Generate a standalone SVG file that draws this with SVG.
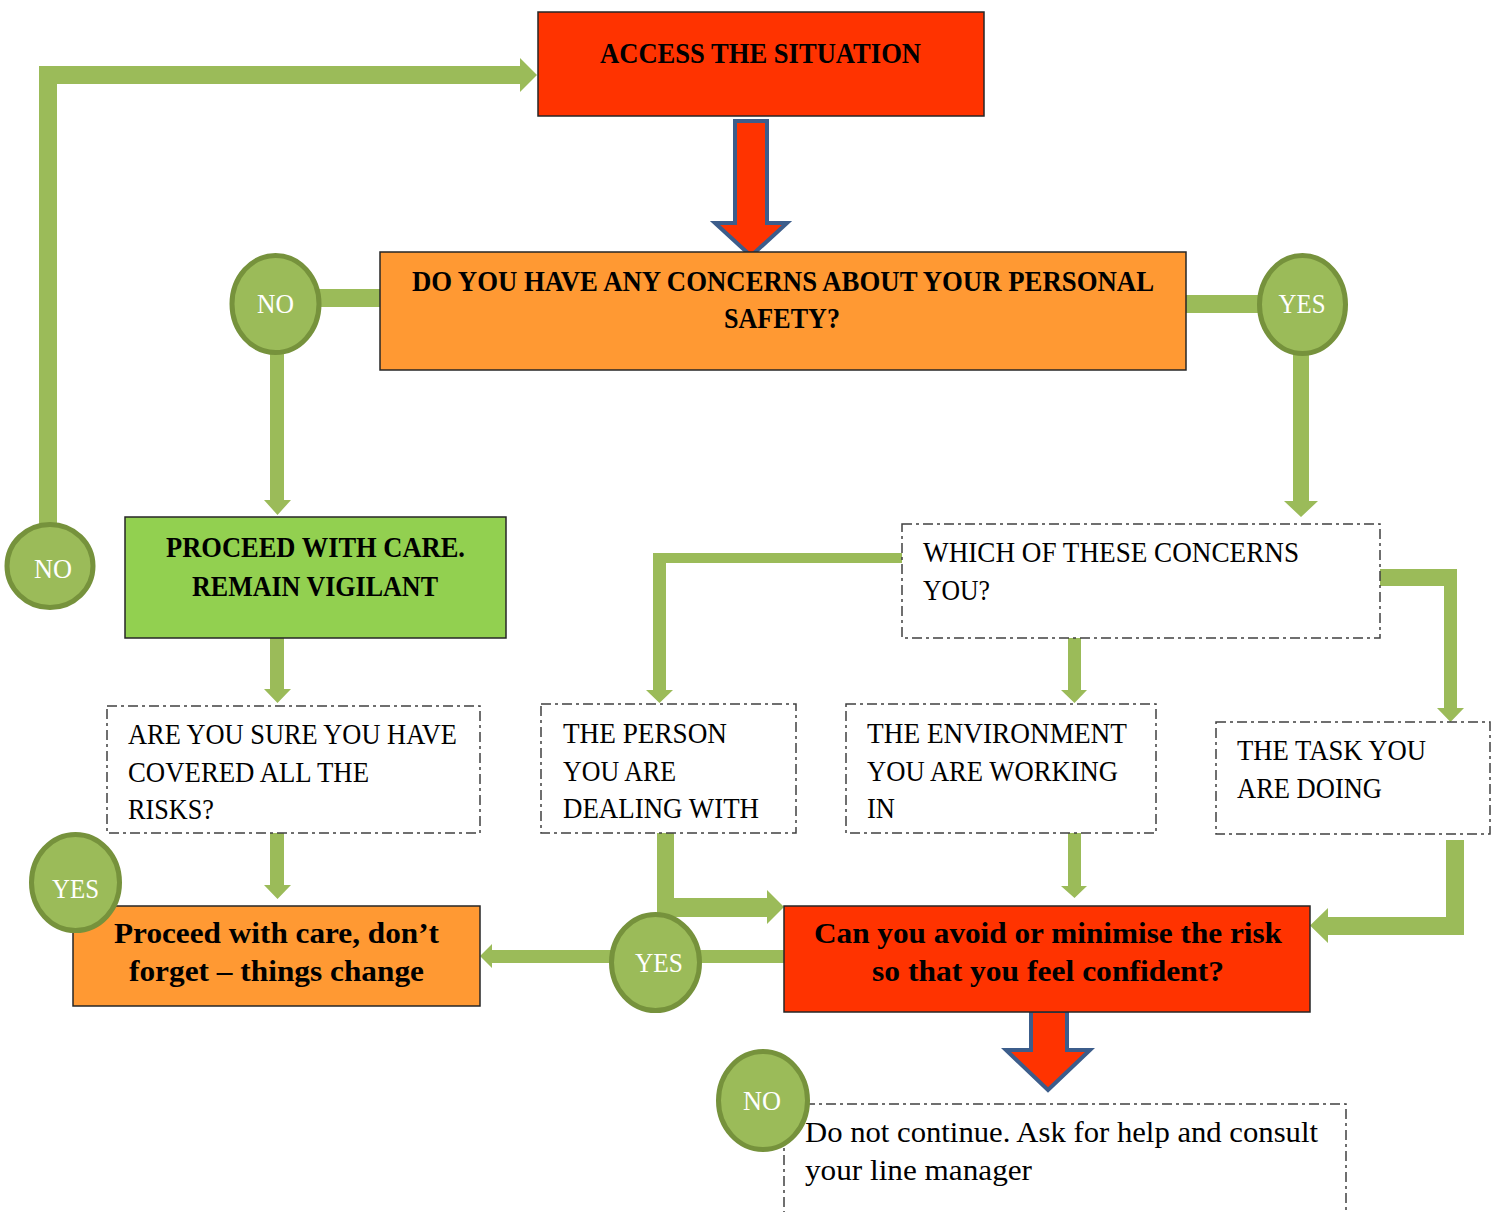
<svg xmlns="http://www.w3.org/2000/svg" width="1497" height="1212" viewBox="0 0 1497 1212">
<style>
  .t { font-family: "Liberation Serif", "DejaVu Serif", serif; font-size: 29px; fill: #000; }
  .b { font-weight: bold; }
  .ct { font-family: "Liberation Serif", "DejaVu Serif", serif; font-size: 27px; fill: #fff; text-anchor: middle; }
  .solid { stroke: #262626; stroke-width: 1.5; }
  .red { fill: #FF3300; }
  .orange { fill: #FF9933; }
  .lime { fill: #92D050; }
  .dash { fill: #fff; stroke: #404040; stroke-width: 1.5; stroke-dasharray: 10 4 3 4; }
  .conn { fill: #9BBB59; }
  .bigarrow { fill: #FF3300; stroke: #3C5D8B; stroke-width: 4; stroke-linejoin: miter; }
  .circ { fill: #9BBB59; stroke: #76923C; stroke-width: 5; }
</style>
<rect width="1497" height="1212" fill="#fff"/>

<g id="connectors">
  <polygon class="conn" points="39,530 39,66 520,66 520,58 537,75 520,92 520,84 57,84 57,530"/>
  <rect class="conn" x="318" y="289" width="62" height="18"/>
  <polygon class="conn" points="270,352 284,352 284,500 291,500 277.5,515 264,500 270,500"/>
  <polygon class="conn" points="270,638 284,638 284,689 291,689 277.5,703 264,689 270,689"/>
  <polygon class="conn" points="270,833 284,833 284,885 291,885 277.5,899 264,885 270,885"/>
  <rect class="conn" x="1186" y="295" width="74" height="18"/>
  <polygon class="conn" points="1293,352 1309,352 1309,501 1318,501 1301,517 1284,501 1293,501"/>
  <polygon class="conn" points="902,553 653,553 653,690 646,690 659.5,703 673,690 666,690 666,563 902,563"/>
  <polygon class="conn" points="1068,638 1081,638 1081,690 1087,690 1074.5,703 1061,690 1068,690"/>
  <polygon class="conn" points="1380,569 1457,569 1457,708 1464,708 1450.5,722 1437,708 1444,708 1444,586 1380,586"/>
  <polygon class="conn" points="1068,833 1081,833 1081,886 1087,886 1074.5,898 1061,886 1068,886"/>
  <polygon class="conn" points="1446,840 1464,840 1464,935 1328,935 1328,943 1310,925.5 1328,908 1328,917 1446,917"/>
  <polygon class="conn" points="657,833 674,833 674,898 767,898 767,890 784,907 767,924 767,917 657,917"/>
  <polygon class="conn" points="784,950 492,950 492,944 480,956 492,968 492,963 784,963"/>
  <polygon class="bigarrow" points="735,121 767,121 767,223 787,223 751,256 715,223 735,223"/>
  <polygon class="bigarrow" points="1031,1011 1067,1011 1067,1050 1090,1050 1048,1090 1006,1050 1031,1050"/>
</g>

<g id="access">
  <rect class="red solid" x="538" y="12" width="446" height="104"/>
  <text class="t b" x="600" y="63" textLength="321" lengthAdjust="spacingAndGlyphs">ACCESS THE SITUATION</text>
</g>

<g id="concerns">
  <rect class="orange solid" x="380" y="252" width="806" height="118"/>
  <text class="t b" x="412" y="291" textLength="742" lengthAdjust="spacingAndGlyphs">DO YOU HAVE ANY CONCERNS ABOUT YOUR PERSONAL</text>
  <text class="t b" x="724" y="328" textLength="116" lengthAdjust="spacingAndGlyphs">SAFETY?</text>
</g>

<g id="proceed-vigilant">
  <rect class="lime solid" x="125" y="517" width="381" height="121"/>
  <text class="t b" x="166" y="557" textLength="299" lengthAdjust="spacingAndGlyphs">PROCEED WITH CARE.</text>
  <text class="t b" x="192" y="596" textLength="246" lengthAdjust="spacingAndGlyphs">REMAIN VIGILANT</text>
</g>

<g id="are-you-sure">
  <rect class="dash" x="107" y="706" width="373" height="127"/>
  <text class="t" x="128" y="744" textLength="329" lengthAdjust="spacingAndGlyphs">ARE YOU SURE YOU HAVE</text>
  <text class="t" x="128" y="782" textLength="241" lengthAdjust="spacingAndGlyphs">COVERED ALL THE</text>
  <text class="t" x="128" y="819" textLength="86" lengthAdjust="spacingAndGlyphs">RISKS?</text>
</g>

<g id="which">
  <rect class="dash" x="902" y="524" width="478" height="114"/>
  <text class="t" x="923" y="562" textLength="376" lengthAdjust="spacingAndGlyphs">WHICH OF THESE CONCERNS</text>
  <text class="t" x="923" y="600" textLength="67" lengthAdjust="spacingAndGlyphs">YOU?</text>
</g>

<g id="person">
  <rect class="dash" x="541" y="704" width="255" height="129"/>
  <text class="t" x="563" y="743" textLength="164" lengthAdjust="spacingAndGlyphs">THE PERSON</text>
  <text class="t" x="563" y="781" textLength="113" lengthAdjust="spacingAndGlyphs">YOU ARE</text>
  <text class="t" x="563" y="818" textLength="196" lengthAdjust="spacingAndGlyphs">DEALING WITH</text>
</g>

<g id="environment">
  <rect class="dash" x="846" y="704" width="310" height="129"/>
  <text class="t" x="867" y="743" textLength="260" lengthAdjust="spacingAndGlyphs">THE ENVIRONMENT</text>
  <text class="t" x="867" y="781" textLength="251" lengthAdjust="spacingAndGlyphs">YOU ARE WORKING</text>
  <text class="t" x="867" y="818" textLength="28" lengthAdjust="spacingAndGlyphs">IN</text>
</g>

<g id="task">
  <rect class="dash" x="1216" y="722" width="274" height="112"/>
  <text class="t" x="1237" y="760" textLength="189" lengthAdjust="spacingAndGlyphs">THE TASK YOU</text>
  <text class="t" x="1237" y="798" textLength="145" lengthAdjust="spacingAndGlyphs">ARE DOING</text>
</g>

<g id="avoid">
  <rect class="red solid" x="784" y="906" width="526" height="106"/>
  <text class="t b" x="814" y="943" textLength="468" lengthAdjust="spacingAndGlyphs">Can you avoid or minimise the risk</text>
  <text class="t b" x="872" y="981" textLength="352" lengthAdjust="spacingAndGlyphs">so that you feel confident?</text>
</g>

<g id="proceed-change">
  <rect class="orange solid" x="73" y="906" width="407" height="100"/>
  <text class="t b" x="114" y="943" textLength="325" lengthAdjust="spacingAndGlyphs">Proceed with care, don’t</text>
  <text class="t b" x="129" y="981" textLength="295" lengthAdjust="spacingAndGlyphs">forget – things change</text>
</g>

<g id="do-not-continue">
  <rect class="dash" x="784" y="1104" width="562" height="130"/>
  <text class="t" x="805" y="1142" textLength="513" lengthAdjust="spacingAndGlyphs">Do not continue. Ask for help and consult</text>
  <text class="t" x="805" y="1180" textLength="227" lengthAdjust="spacingAndGlyphs">your line manager</text>
</g>

<g id="no-top">
  <ellipse class="circ" cx="275.5" cy="304" rx="43.5" ry="48.5"/>
  <text class="ct" x="275.5" y="313" textLength="37" lengthAdjust="spacingAndGlyphs">NO</text>
</g>
<g id="yes-top">
  <ellipse class="circ" cx="1302.5" cy="304.5" rx="43" ry="49"/>
  <text class="ct" x="1302" y="313" textLength="47" lengthAdjust="spacingAndGlyphs">YES</text>
</g>
<g id="no-left">
  <ellipse class="circ" cx="50" cy="566" rx="43" ry="41.5"/>
  <text class="ct" x="53" y="578" textLength="38" lengthAdjust="spacingAndGlyphs">NO</text>
</g>
<g id="yes-left">
  <ellipse class="circ" cx="75.5" cy="882.5" rx="44" ry="48"/>
  <text class="ct" x="75.5" y="898" textLength="47" lengthAdjust="spacingAndGlyphs">YES</text>
</g>
<g id="yes-mid">
  <ellipse class="circ" cx="655.5" cy="962.5" rx="44" ry="48"/>
  <text class="ct" x="659" y="972" textLength="48" lengthAdjust="spacingAndGlyphs">YES</text>
</g>
<g id="no-bottom">
  <ellipse class="circ" cx="763" cy="1100.5" rx="44.5" ry="49"/>
  <text class="ct" x="762" y="1110" textLength="38" lengthAdjust="spacingAndGlyphs">NO</text>
</g>
</svg>
